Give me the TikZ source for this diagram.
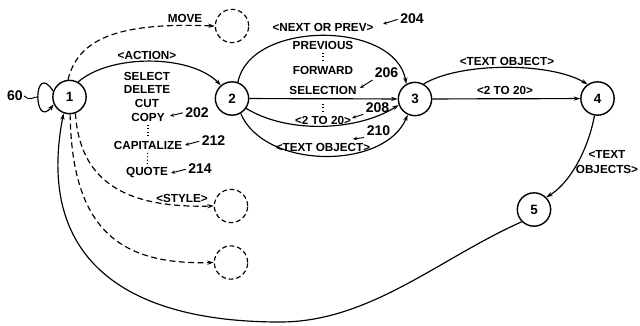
\documentclass[tikz,border=0pt]{standalone}
\usepackage{fontspec}
\setmainfont{Liberation Sans}
\usetikzlibrary{arrows.meta}

\begin{document}
\begin{tikzpicture}[x=0.3mm,y=-0.3mm,>={Stealth[length=5.5pt,width=3.6pt]},
  every node/.style={font=\fontsize{10}{11}\selectfont\bfseries,inner sep=1pt},
  state/.style={circle,draw,line width=1.2pt,minimum size=10mm,inner sep=0pt,font=\fontsize{11.5}{12}\selectfont\bfseries},
  ghost/.style={circle,draw,line width=1pt,dash pattern=on 4pt off 2.5pt,minimum size=10mm},
  refnum/.style={font=\fontsize{12}{13}\selectfont\bfseries},
  trans/.style={->,line width=1pt},
  dtrans/.style={->,line width=1pt,dash pattern=on 5pt off 3pt},
  lead/.style={-{Stealth[length=3.5pt,width=3pt]},line width=0.8pt,shorten <=1pt},
  dots/.style={dotted,line width=0.9pt,shorten <=2pt,shorten >=2pt}]
\useasboundingbox (0,0) rectangle (640,325);
% states
\node[state] (n1) at (69.5,97) {1};
\node[state] (n2) at (232,98.5) {2};
\node[state] (n3) at (415,99) {3};
\node[state] (n4) at (597.5,98.5) {4};
\node[state] (n5) at (534,209.5) {5};
\node[ghost] (gmove) at (232,26) {};
\node[ghost] (gstyle) at (231,206) {};
\node[ghost] (gother) at (231,262.5) {};
% self loop on 1
\draw[trans] (n1.160) .. controls (33,60) and (33,130) .. (n1.205);
\node[refnum] (r60) at (15,96) {60};
\coordinate (c60) at (38.5,97);
\draw[line width=0.8pt] (r60.east) .. controls (31,102) and (33,96) .. (c60);
% 1 -> others
\draw[dtrans] (n1.95) .. controls (78,40) and (115,22) .. (gmove.west);
\node (move) at (185,18) {MOVE};
\draw[trans] (n1.60) .. controls (110,54) and (190,54) .. (n2.130);
\node (action) at (147,55) {<ACTION>};
\draw[dtrans] (n1.-70) .. controls (80,185) and (130,208) .. (gstyle.west);
\node (style) at (182,198) {<STYLE>};
\draw[dtrans] (n1.-88) .. controls (72,230) and (120,265) .. (gother.west);
% action list
\node (select) at (147,76) {SELECT};
\node (delete) at (147,89) {DELETE};
\node (cut) at (147,103) {CUT};
\node (copy) at (148,117) {COPY};
\node (capit) at (148,145) {CAPITALIZE};
\node (quote) at (147,173) {QUOTE};
\draw[dots] (copy) -- (capit);
\draw[dots] (capit) -- (quote);
\node[refnum] (r202) at (197,112.5) {202};
\node[refnum] (r212) at (213.5,141) {212};
\node[refnum] (r214) at (200,169) {214};
\coordinate (t202) at (170,116);
\coordinate (t212) at (185,145);
\coordinate (t214) at (171,173);
\draw[lead] (r202.west) -- (t202);
\draw[lead] (r212.west) -- (t212);
\draw[lead] (r214.west) -- (t214);
% 2 -> 3
\draw[trans] (n2.70) .. controls (250,20) and (395,20) .. (n3.120);
\draw[trans] (n2) -- (n3);
\draw[trans] (n2.-35) .. controls (290,135) and (360,130) .. (n3.200);
\draw[trans] (n2.-60) .. controls (265,170) and (385,170) .. (n3.-115);
\node (nextprev) at (323,27) {<NEXT OR PREV>};
\node (previous) at (323,45) {PREVIOUS};
\node (forward) at (323,70) {FORWARD};
\node (selection) at (323,90) {SELECTION};
\node (twotwenty) at (323,120) {<2 TO 20>};
\node (textobj) at (323,147) {<TEXT OBJECT>};
\draw[dots] (previous) -- (forward);
\draw[dots,shorten <=7pt] (selection) -- (twotwenty);
\node[refnum] (r204) at (412,19) {204};
\node[refnum] (r206) at (386.5,73) {206};
\node[refnum] (r208) at (377.5,107.5) {208};
\node[refnum] (r210) at (378.5,131) {210};
\coordinate (t204) at (383,24);
\coordinate (t206) at (360,88);
\coordinate (t208) at (352,118);
\coordinate (t210) at (353,139);
\draw[lead] (r204.west) -- (t204);
\draw[lead] (r206.south west) -- (t206);
\draw[lead] (r208.south west) -- (t208);
\draw[lead] (r210.south west) -- (t210);
% 3 -> 4 -> 5 -> 1
\draw[trans] (n3.60) .. controls (460,62) and (550,62) .. (n4.125);
\node (textobj2) at (507,61) {<TEXT OBJECT>};
\draw[trans] (n3) -- (n4);
\node (twotwenty2) at (505,90) {<2 TO 20>};
\draw[trans] (n4.-100) .. controls (588,150) and (570,183) .. (n5.45);
\node[align=center,font=\fontsize{10}{12.5}\selectfont\bfseries] (textobjs) at (607,162) {<TEXT\\OBJECTS>};
\draw[trans] (n5.225) .. controls (440,258) and (370,322) .. (280,322) .. controls (120,322) and (36,255) .. (n1.250);
\end{tikzpicture}
\end{document}
